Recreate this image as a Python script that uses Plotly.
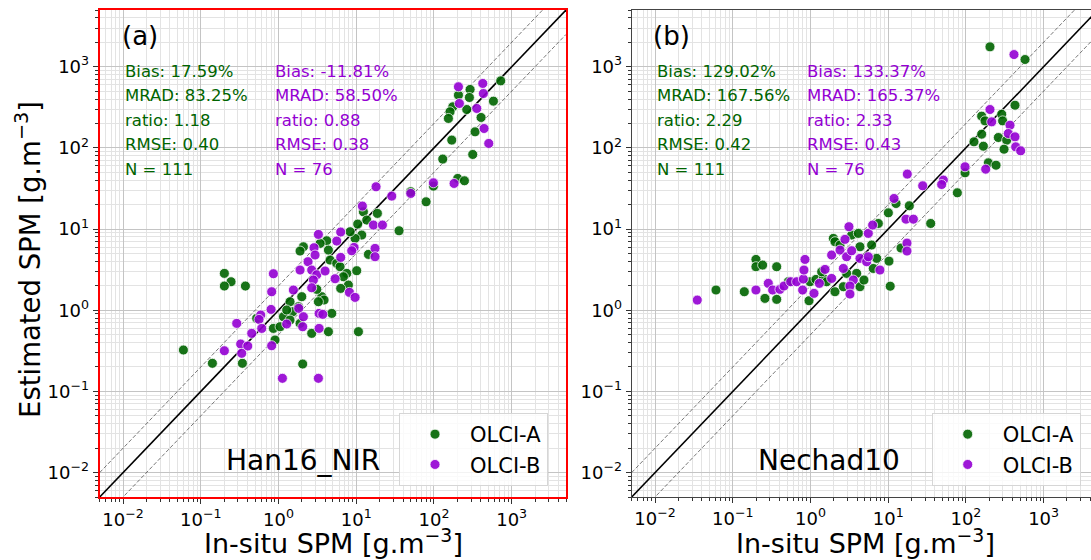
import numpy as np
import plotly.graph_objects as go

W, H = 1091, 560

# ---- data (log10 of SPM, g.m-3) ----
# Panel (a) Han16_NIR
a_A_logx = [1.092, 1.135, 1.019, 1.071, 0.985, 0.921, 0.620, 0.535, 0.320, 0.277, 0.642, 0.663, 0.749, 0.792,
            0.878, 1.006, 1.157, -0.697, -0.611, -0.697, -0.426, 0.835, 0.899, 0.800, 0.556, 0.586, 0.513, 0.299,
            0.256, 0.148, 0.063, 0.183, 0.148, -0.281, -0.066, 0.020, 0.277, 0.427, 0.642, 0.685, 1.028, -0.045,
            -1.224, -0.851, -0.465, 0.311, 0.492, 0.105,
            2.859, 2.465, 2.315, 2.456, 2.765, 2.422, 2.242, 2.207, 2.186, 2.606, 2.529, 2.229, 2.499, 2.113,
            2.306, 2.392, 1.993, 1.899, 1.272, 1.551, 1.700]
a_A_logy = [1.213, 1.111, 1.061, 0.926, 0.885, 0.967, 0.856, 0.823, 0.782, 0.729, 0.741, 0.618, 0.577, 0.536,
            0.454, 0.487, 0.688, 0.454, 0.351, 0.298, 0.298, 0.413, 0.310, 0.269, 0.167, 0.126, 0.105, 0.167,
            0.043, 0.105, -0.080, -0.018, -0.121, -0.100, -0.224, -0.203, -0.162, -0.285, -0.264, -0.039, -0.264, -0.367,
            -0.490, -0.654, -0.654, -0.663, 0.257, 0.003,
            2.826, 2.720, 2.650, 2.621, 2.576, 2.473, 2.506, 2.445, 2.363, 2.375, 2.198, 2.096, 1.919, 1.862,
            1.624, 1.595, 1.529, 1.336, 1.193, 0.979, 1.460]
a_B_logx = [1.079, 0.513, 0.800, 0.749, 0.972, 0.942, 0.457, 0.380, 0.470, 0.277, 0.427, 0.492, 0.599, 0.728,
            0.800, 0.449, 0.427, 0.912, 0.985, -0.066, -0.088, 0.191, 0.260, 0.320, 0.311, -0.096, -0.229, -0.251,
            -0.216, -0.538, -0.345, -0.487, -0.396, -0.088, -0.697, -0.474, 0.105, 0.522, 0.569, 0.522, 0.050, 0.513,
            2.315, 2.628, 2.636, 2.327, 2.551, 2.645, 2.705, 1.993, 2.259, 1.255, 1.457, 1.701, 1.221, 1.337,
            1.242, 1.242]
a_B_logy = [1.283, 0.934, 0.963, 0.852, 0.774, 0.733, 0.770, 0.598, 0.680, 0.495, 0.495, 0.437, 0.483, 0.388,
            0.651, 0.372, 0.277, 0.220, 0.158, 0.450, 0.228, 0.249, 0.023, -0.080, -0.203, 0.010, -0.059, -0.113,
            -0.224, -0.162, -0.285, -0.416, -0.441, -0.437, -0.499, -0.531, -0.170, -0.039, -0.051, -0.224, -0.839, -0.839,
            2.753, 2.794, 2.670, 2.547, 2.486, 2.239, 2.055, 1.570, 1.562, 1.521, 1.406, 1.439, 1.049, 1.049,
            0.762, 0.659]

# Panel (b) Nechad10
b_A_logx = [-1.216, -0.852, -0.702, -0.702, -0.616, -0.435, -0.586, -0.435, -0.019, -0.285, -0.007, 0.071, 0.165,
            0.144, 0.208, 0.315, 0.294, 0.315, 0.380, 0.530, 0.616, 0.423, 0.637, 0.688, 0.594, 0.637, 0.808, 0.852,
            0.787, 0.465,
            2.310, 2.761, 2.632, 2.203, 2.246, 2.461, 2.473, 2.203, 2.104, 2.225, 2.418, 2.525, 2.491, 2.289, 2.388,
            1.989, 1.890, 1.101, 1.272, 1.002, 1.547, 0.873, 1.165, 1.010, 1.026]
b_A_logy = [0.249, 0.228, 0.626, 0.536, 0.556, 0.536, 0.146, 0.134, 0.117, 0.351, 0.351, 0.380, 0.392,
            0.474, 0.351, 0.228, 0.885, 0.844, 0.803, 0.926, 0.947, 0.290, 0.290, 0.372, 0.454, 0.782, 0.515, 0.639,
            0.803, 0.454,
            3.245, 3.089, 2.526, 2.391, 2.333, 2.415, 2.333, 2.169, 2.075, 2.021, 2.128, 2.095, 1.984, 1.816, 1.787,
            1.693, 1.447, 1.315, 1.287, 1.200, 1.069, 1.069, 0.766, 0.605, 0.296]
b_B_logx = [-1.457, -0.702, -0.543, -0.487, -0.393, -0.341, -0.255, -0.178, -0.092, -0.101, -0.071, -0.084, 0.045,
            0.114, 0.187, 0.272, 0.272, 0.380, 0.444, 0.495, 0.465, 0.423, 0.530, 0.551, 0.508, 0.508, 0.637, 0.723,
            0.744, 0.744, 0.800, 0.894,
            2.619, 2.310, 2.332, 2.568, 2.546, 2.632, 2.641, 2.705, 1.989, 2.255, 1.246, 1.444, 1.710, 1.688, 1.075,
            1.229, 1.324, 1.242, 1.242]
b_B_logy = [0.125, 0.249, 0.331, 0.249, 0.257, 0.298, 0.351, 0.351, 0.384, 0.249, 0.626, 0.495, 0.208,
            0.331, 0.503, 0.392, 0.680, 0.741, 0.873, 1.029, 0.659, 0.515, 0.733, 0.372, 0.298, 0.199, 0.639, 0.598,
            0.947, 0.659, 1.049, 0.495,
            3.150, 2.473, 2.321, 2.280, 2.177, 2.136, 2.013, 1.964, 1.767, 1.738, 1.677, 1.533, 1.603, 1.549, 1.377,
            1.122, 1.122, 0.827, 0.729]

stats_A = {"a": ["Bias: 17.59%", "MRAD: 83.25%", "ratio: 1.18", "RMSE: 0.40", "N = 111"],
           "b": ["Bias: 129.02%", "MRAD: 167.56%", "ratio: 2.29", "RMSE: 0.42", "N = 111"]}
stats_B = {"a": ["Bias: -11.81%", "MRAD: 58.50%", "ratio: 0.88", "RMSE: 0.38", "N = 76"],
           "b": ["Bias: 133.37%", "MRAD: 165.37%", "ratio: 2.33", "RMSE: 0.43", "N = 76"]}
algos = {"a": "Han16_NIR", "b": "Nechad10"}
tick_exps = [-2, -1, 0, 1, 2, 3]
lim = [0.005, 5000]

GREEN = "#006400"
PURPLE = "#9400D3"
FONT = "DejaVu Sans"

def fx(p):
    return p / W

def fy(p):
    return 1 - p / H

fig = go.Figure()

# reference lines 1:1, 2:1 and 1:2
line_x = np.array(lim)
for xa, ya in [("x", "y"), ("x2", "y2")]:
    for fac, dash, col, wd in [(2.0, "4px,2px", "#555555", 0.8), (0.5, "4px,2px", "#555555", 0.8),
                               (1.0, "solid", "black", 1.6)]:
        fig.add_trace(go.Scatter(x=line_x, y=line_x * fac, mode="lines", xaxis=xa, yaxis=ya,
                                 line=dict(color=col, width=wd, dash=dash), showlegend=False,
                                 hoverinfo="skip"))

def pts(xa, ya, lx, ly, color, name, leg):
    fig.add_trace(go.Scatter(x=10 ** np.array(lx), y=10 ** np.array(ly), mode="markers", name=name,
                             xaxis=xa, yaxis=ya, legend=leg,
                             marker=dict(size=10, color=color, opacity=0.9,
                                         line=dict(color="white", width=0.8))))

pts("x", "y", a_A_logx, a_A_logy, GREEN, "OLCI-A", "legend")
pts("x", "y", a_B_logx, a_B_logy, PURPLE, "OLCI-B", "legend")
pts("x2", "y2", b_A_logx, b_A_logy, GREEN, "OLCI-A", "legend2")
pts("x2", "y2", b_B_logx, b_B_logy, PURPLE, "OLCI-B", "legend2")

tickvals = [10.0 ** e for e in tick_exps]
ticktext = ["10<sup>%s</sup>" % (("\u2212%d" % -e) if e < 0 else "%d" % e) for e in tick_exps]
minor_vals = [10.0 ** e * k for e in range(-3, 4) for k in range(2, 10)]

def axis_style(domain, rng, linecolor, linewidth, mirror):
    return dict(type="log", domain=domain, range=rng, tickmode="array", tickvals=tickvals,
                ticktext=ticktext, ticks="outside", ticklen=5, tickwidth=1, tickcolor="#333",
                tickfont=dict(family=FONT, size=18, color="black"),
                showgrid=True, gridcolor="#c4c4c4", gridwidth=1,
                minor=dict(tickmode="array", tickvals=minor_vals, ticks="outside", ticklen=3,
                           tickcolor="#333", showgrid=True, gridcolor="#e3e3e3", gridwidth=1),
                showline=True, linecolor=linecolor, linewidth=linewidth, mirror=mirror,
                zeroline=False, fixedrange=True)

ydom = [fy(497), fy(10)]
xa_dom = [fx(99.7), fx(566)]
xb_dom = [fx(631.7), 1.0]
rng_full = [np.log10(lim[0]), np.log10(lim[1])]
rng_b = [np.log10(lim[0]), np.log10(lim[0]) + (W - 631.7) / 77.7]

leg_common = dict(xanchor="left", yanchor="top", bgcolor="rgba(255,255,255,0.8)",
                  bordercolor="#d6d6d6", borderwidth=1, font=dict(family=FONT, size=21),
                  itemwidth=60, tracegroupgap=0)

fig.update_layout(
    width=W, height=H, margin=dict(l=0, r=0, t=0, b=0),
    paper_bgcolor="white", plot_bgcolor="white",
    font=dict(family=FONT, color="black"),
    xaxis=axis_style(xa_dom, rng_full, "red", 2, True) | dict(anchor="y"),
    yaxis=axis_style(ydom, rng_full, "red", 2, True) | dict(anchor="x"),
    xaxis2=axis_style(xb_dom, rng_b, "#444", 1, True) | dict(anchor="y2"),
    yaxis2=axis_style(ydom, rng_full, "#444", 1, False) | dict(anchor="x2"),
    legend=dict(x=fx(399), y=fy(413), **leg_common),
    legend2=dict(x=fx(931.7), y=fy(413), **leg_common),
    showlegend=True,
)

ann = []
rows = [71, 95.5, 120, 144.5, 169]
for key, gx, bx, lab_x, alg_x, xt in [("a", 123, 273, 120, 303, 333), ("b", 655, 805, 651, 829, 865)]:
    for i, r in enumerate(rows):
        ann.append(dict(x=fx(gx), y=fy(r), xref="paper", yref="paper", text=stats_A[key][i],
                        showarrow=False, xanchor="left", yanchor="middle",
                        font=dict(family=FONT, size=16.5, color=GREEN)))
        ann.append(dict(x=fx(bx), y=fy(r), xref="paper", yref="paper", text=stats_B[key][i],
                        showarrow=False, xanchor="left", yanchor="middle",
                        font=dict(family=FONT, size=16.5, color=PURPLE)))
    ann.append(dict(x=fx(lab_x), y=fy(36), xref="paper", yref="paper", text="(%s)" % key,
                    showarrow=False, xanchor="left", yanchor="middle", font=dict(family=FONT, size=26)))
    ann.append(dict(x=fx(alg_x), y=fy(460), xref="paper", yref="paper", text=algos[key],
                    showarrow=False, xanchor="center", yanchor="middle", font=dict(family=FONT, size=28)))
    ann.append(dict(x=fx(xt), y=fy(541.5), xref="paper", yref="paper", text="In-situ SPM [g.m<sup>\u22123</sup>]",
                    showarrow=False, xanchor="center", yanchor="middle", font=dict(family=FONT, size=27)))
ann.append(dict(x=fx(28), y=fy(260), xref="paper", yref="paper", text="Estimated SPM [g.m<sup>\u22123</sup>]",
                showarrow=False, xanchor="center", yanchor="middle", textangle=-90,
                font=dict(family=FONT, size=27.5)))
fig.update_layout(annotations=ann)

fig.write_html("out.html", config={"displayModeBar": False},
               post_script="document.body.style.margin='0px';document.body.style.overflow='hidden';")
